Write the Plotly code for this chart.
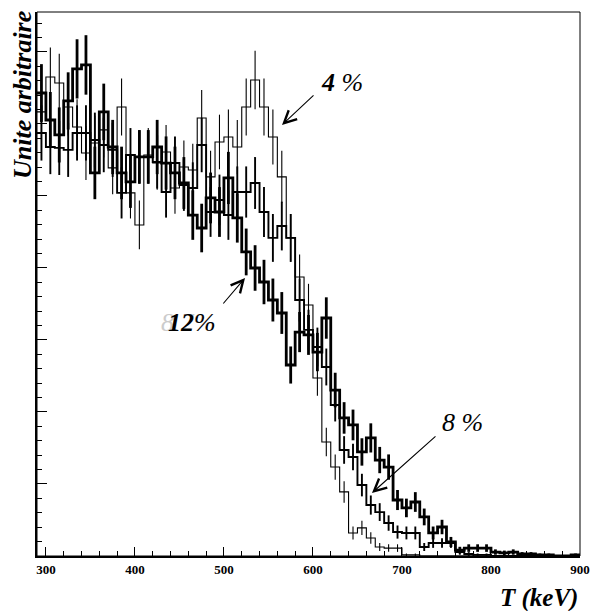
import numpy as np
import plotly.graph_objects as go

# Bin edges (keV), 10 keV bins from 290 to 900
bin_edges = list(range(290, 901, 10))

# Counts per bin (arbitrary units)
h4 = [246.7, 266.1, 262.8, 249.4, 238.3, 223.9, 229.4, 236.7, 215.6, 249.4,
      201.7, 183.9, 222.8, 218.3, 224.4, 204.4, 216.1, 214.4, 243.3, 210.6,
      230.0, 232.8, 227.2, 249.4, 264.4, 249.4, 232.8, 210.6, 176.7, 155.0,
      139.4, 98.9, 63.3, 49.4, 35.6, 12.8, 15.6, 10.0, 5.0, 4.4,
      4.4, 0.6, 0.6, 0, 0, 0, 0, 0, 0, 0,
      0, 0, 0, 0, 0, 0, 0, 0, 0, 0, 0]

h8 = [235.0, 227.2, 226.7, 225.6, 235.0, 235.0, 231.1, 228.3, 225.6, 201.7,
      222.8, 221.7, 221.7, 218.9, 202.2, 218.3, 206.1, 204.4, 228.3, 191.1,
      197.8, 189.4, 202.2, 202.2, 207.2, 191.1, 176.7, 183.3, 176.7, 142.2,
      125.6, 116.1, 105.0, 83.9, 58.9, 55.0, 39.4, 28.3, 24.4, 18.3,
      13.3, 12.8, 12.8, 5.0, 7.2, 7.2, 7.2, 2.2, 1.1, 0.6,
      0.6, 0, 0, 0, 0, 0, 0, 0, 0, 0, 0]

h12 = [257.2, 242.2, 233.9, 252.8, 270.6, 272.8, 212.8, 246.7, 227.2, 212.8,
       207.8, 221.7, 221.7, 227.2, 218.3, 212.8, 207.2, 189.4, 182.2, 198.9,
       191.1, 210.0, 187.8, 168.9, 160.0, 152.2, 142.2, 135.0, 106.1, 124.4,
       122.8, 113.3, 132.2, 92.2, 76.7, 72.8, 57.8, 65.6, 53.3, 49.4,
       31.1, 26.7, 30.0, 21.7, 12.8, 16.1, 7.8, 3.3, 4.4, 4.4,
       4.4, 2.2, 1.7, 2.2, 1.1, 1.1, 0.6, 0.6, 0, 0, 0.6]

x_ticks = [300, 400, 500, 600, 700, 800, 900]
x_ticklabels = ["300", "400", "500", "600", "700", "800", "900"]

series = [
    ("4 %", h4, 1.1),
    ("8 %", h8, 1.9),
    ("12 %", h12, 2.8),
]

edges = np.array(bin_edges, dtype=float)
centers = 0.5 * (edges[:-1] + edges[1:])

fig = go.Figure()
for name, vals, lw in series:
    v = np.array(vals, dtype=float)
    fig.add_trace(go.Scatter(
        x=edges, y=np.append(v, v[-1]), mode="lines",
        line=dict(color="black", width=lw, shape="hv"),
        showlegend=False, hoverinfo="skip", name=name))
    fig.add_trace(go.Scatter(
        x=centers, y=v, mode="markers",
        marker=dict(size=1, color="rgba(0,0,0,0)"),
        error_y=dict(type="data", array=np.sqrt(v), visible=True,
                     width=0, thickness=lw, color="black"),
        showlegend=False, hoverinfo="skip", name=name))

font_lab = "Liberation Serif"

fig.update_layout(
    width=591, height=611, autosize=False,
    margin=dict(l=37, r=11, t=12, b=55, autoexpand=False),
    paper_bgcolor="white", plot_bgcolor="white",
    xaxis=dict(range=[290, 900], showgrid=False, zeroline=False, automargin=False,
               showline=True, linecolor="black", linewidth=2,
               ticks="inside", ticklen=9, tickwidth=1.3, tickcolor="black",
               tickvals=x_ticks, ticktext=["<b>%s</b>" % t for t in x_ticklabels],
               tickfont=dict(family=font_lab, size=13, color="black"),
               minor=dict(dtick=20, tick0=300, ticks="inside", ticklen=5,
                          tickwidth=1.2, tickcolor="black")),
    yaxis=dict(range=[0, 302.2], showgrid=False, zeroline=False, automargin=False,
               showline=True, linecolor="black", linewidth=2,
               ticks="inside", ticklen=10, tickwidth=1.3, tickcolor="black",
               dtick=40, tick0=0, showticklabels=False,
               minor=dict(dtick=8, ticks="inside", ticklen=5,
                          tickwidth=1.2, tickcolor="black")),
    shapes=[dict(type="rect", xref="paper", yref="paper", x0=0, x1=1, y0=0, y1=1,
                 line=dict(color="black", width=1), layer="above")],
)

tfont = dict(family=font_lab, size=26, color="black")
ann = []
# axis titles
ann.append(dict(text="<b><i>Unite arbitraire</i></b>", xref="paper", yref="paper",
                x=-0.0276, y=0.8474, showarrow=False, textangle=-90,
                font=dict(family=font_lab, size=26, color="#000000"),
                xanchor="center", yanchor="middle"))
ann.append(dict(text="<b><i>T (keV)</i></b>", xref="paper", yref="paper",
                x=0.9245, y=-0.0772, showarrow=False,
                font=dict(family=font_lab, size=25, color="black"),
                xanchor="center", yanchor="middle"))
# labels
ann.append(dict(text="<b><i>4</i></b><i> %</i>", xref="paper", yref="paper",
                x=0.5617, y=0.8695, showarrow=False, font=tfont,
                xanchor="center", yanchor="middle"))
ann.append(dict(text="<i>8 %</i>", xref="paper", yref="paper",
                x=0.7827, y=0.2463, showarrow=False, font=tfont,
                xanchor="center", yanchor="middle"))
ann.append(dict(text="<i>8 7%</i>", xref="paper", yref="paper",
                x=0.2790, y=0.4301, showarrow=False,
                font=dict(family=font_lab, size=26, color="#cccccc"),
                xanchor="center", yanchor="middle"))
ann.append(dict(text="<b><i>12</i></b><i>%</i>", xref="paper", yref="paper",
                x=0.2855, y=0.4301, showarrow=False, font=tfont,
                xanchor="center", yanchor="middle"))
# arrows
for hx, hy, ax, ay in [(0.4512, 0.7923, 33, -31),
                       (0.3831, 0.5110, -23, 27),
                       (0.6169, 0.1158, 65, -58)]:
    ann.append(dict(text="", xref="paper", yref="paper", x=hx, y=hy,
                    ax=ax, ay=ay, axref="pixel", ayref="pixel",
                    showarrow=True, arrowhead=5, arrowsize=2.2,
                    arrowwidth=1.1, arrowcolor="black"))
fig.update_layout(annotations=ann)

# remove the default page margin so the figure sits at the window's corner
fig.write_html("out.html",
               config={"responsive": False, "displayModeBar": False},
               post_script="document.body.style.margin='0';"
                           "document.body.style.overflow='hidden';")
